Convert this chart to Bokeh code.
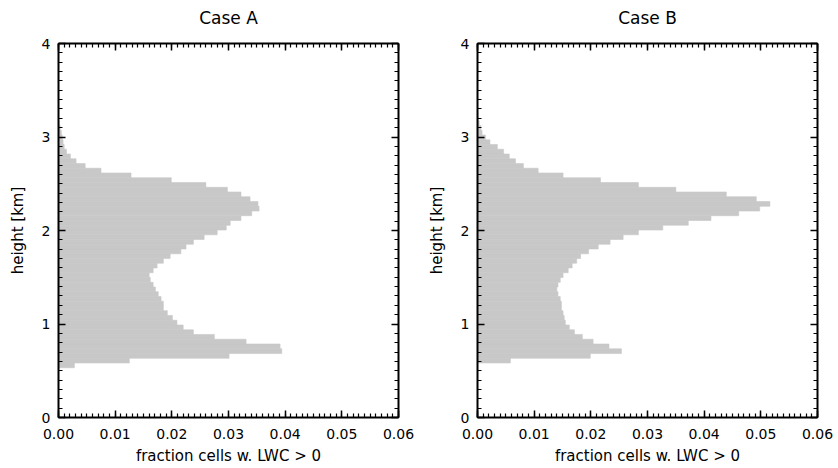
from bokeh.plotting import figure
from bokeh.layouts import row
from bokeh.models import (Range1d, LinearAxis, SingleIntervalTicker,
                          PrintfTickFormatter, ColumnDataSource, CustomLabelingPolicy)
from bokeh.embed import file_html
from bokeh.resources import INLINE

# ---------------- data ----------------
height_edges_km = [0.532, 0.583, 0.634, 0.684, 0.735, 0.786, 0.837, 0.888, 0.938, 0.989,
                   1.040, 1.091, 1.142, 1.192, 1.243, 1.294, 1.345, 1.396, 1.446, 1.497,
                   1.548, 1.599, 1.650, 1.700, 1.751, 1.802, 1.853, 1.904, 1.954, 2.005,
                   2.056, 2.107, 2.158, 2.208, 2.259, 2.310, 2.361, 2.412, 2.462, 2.513,
                   2.564, 2.615, 2.666, 2.716, 2.767, 2.818, 2.869, 2.920, 2.970, 3.021,
                   3.072, 3.123, 3.174, 3.224, 3.275]

case_a = [0.0028, 0.0125, 0.0301, 0.0394, 0.0391, 0.0331, 0.0275, 0.0238, 0.0220, 0.0209,
          0.0201, 0.0192, 0.0185, 0.0185, 0.0181, 0.0176, 0.0171, 0.0167, 0.0162, 0.0160,
          0.0167, 0.0174, 0.0185, 0.0197, 0.0216, 0.0225, 0.0238, 0.0257, 0.0280, 0.0296,
          0.0303, 0.0322, 0.0341, 0.0354, 0.0352, 0.0338, 0.0322, 0.0298, 0.0260, 0.0199,
          0.0128, 0.0075, 0.0047, 0.0031, 0.0021, 0.0014, 0.0010, 0.0008, 0.00065, 0.0005,
          0.0003, 0.0001, 0.0, 0.0]

case_b = [0.0, 0.0058, 0.0199, 0.0254, 0.0232, 0.0204, 0.0185, 0.0171, 0.0162, 0.0155,
          0.0153, 0.0151, 0.0148, 0.0148, 0.0146, 0.0142, 0.0140, 0.0142, 0.0146, 0.0151,
          0.0160, 0.0167, 0.0175, 0.0182, 0.0196, 0.0213, 0.0234, 0.0257, 0.0284, 0.0327,
          0.0372, 0.0412, 0.0461, 0.0498, 0.0516, 0.0492, 0.0439, 0.0350, 0.0284, 0.0217,
          0.0151, 0.0107, 0.0081, 0.0067, 0.0056, 0.0046, 0.0035, 0.0022, 0.0014, 0.0008,
          0.0006, 0.0003, 0.0001, 0.00005]

titles = ["Case A", "Case B"]
x_label = "fraction cells w. LWC > 0"
y_label = "height [km]"

FONT = "DejaVu Sans"
GRAY = "#c8c8c8"


def style_axis(ax, labels=True):
    ax.axis_line_width = 2
    ax.axis_line_color = "black"
    ax.major_tick_line_width = 1.5
    ax.minor_tick_line_width = 1.2
    ax.major_tick_in = 7
    ax.major_tick_out = 0
    ax.minor_tick_in = 4
    ax.minor_tick_out = 0
    ax.major_label_text_font = FONT
    ax.major_label_text_color = "black"
    ax.axis_label_text_font = FONT
    ax.axis_label_text_font_style = "normal"
    ax.axis_label_text_color = "black"
    if not labels:
        ax.major_label_policy = CustomLabelingPolicy(code="return new Set()")
        ax.major_label_standoff = 0


def make_panel(title, values, left_border, right_border, width):
    p = figure(width=width, height=468, x_range=Range1d(0, 0.06), y_range=Range1d(0, 4),
               output_backend="svg", toolbar_location=None,
               min_border_left=left_border, min_border_right=right_border,
               min_border_top=43, min_border_bottom=51, title=title)
    p.title.align = "center"
    p.title.text_font = FONT
    p.title.text_font_size = "17px"
    p.title.text_font_style = "normal"
    p.title.text_color = "black"
    p.title.standoff = 10
    p.outline_line_color = None
    p.grid.visible = False
    p.background_fill_color = "white"
    p.border_fill_color = "white"

    src = ColumnDataSource(dict(frac=values, bot=height_edges_km[:-1], top=height_edges_km[1:]))
    p.quad(left=0, right="frac", bottom="bot", top="top", source=src,
           fill_color=GRAY, line_color=GRAY, line_width=0.6)

    xt = SingleIntervalTicker(interval=0.01, num_minor_ticks=10)
    yt = SingleIntervalTicker(interval=1, num_minor_ticks=10)

    xa = p.xaxis[0]
    xa.ticker = xt
    xa.formatter = PrintfTickFormatter(format="%.2f")
    style_axis(xa)
    xa.major_label_text_font_size = "14px"
    xa.major_label_standoff = 11
    xa.axis_label = x_label
    xa.axis_label_text_font_size = "15px"
    xa.axis_label_standoff = 5

    ya = p.yaxis[0]
    ya.ticker = yt
    style_axis(ya)
    ya.major_label_text_font_size = "14px"
    ya.major_label_standoff = 8
    ya.axis_label = y_label
    ya.axis_label_text_font_size = "15px"
    ya.axis_label_standoff = 12

    top_ax = LinearAxis(ticker=SingleIntervalTicker(interval=0.01, num_minor_ticks=10))
    style_axis(top_ax, labels=False)
    p.add_layout(top_ax, "above")
    right_ax = LinearAxis(ticker=SingleIntervalTicker(interval=1, num_minor_ticks=10))
    style_axis(right_ax, labels=False)
    p.add_layout(right_ax, "right")
    return p


pa = make_panel(titles[0], case_a, 58, 21, 419)
pb = make_panel(titles[1], case_b, 58, 21, 419)

layout = row(pa, pb)
open("out.html", "w").write(file_html(layout, INLINE))
